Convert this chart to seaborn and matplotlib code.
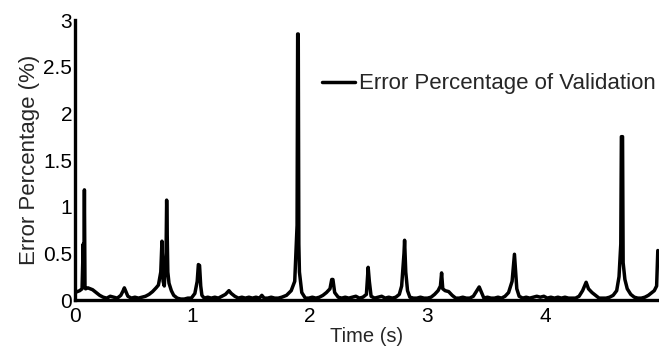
import numpy as np
import pandas as pd
import matplotlib
matplotlib.use("Agg")
import matplotlib.pyplot as plt
import seaborn as sns

time_s = [0.00, 0.02, 0.04, 0.06, 0.07, 0.075, 0.08, 0.085, 0.09, 0.11, 0.13, 0.15, 0.18, 0.21, 0.24, 0.27,
          0.30, 0.33, 0.36, 0.39, 0.41, 0.42, 0.43, 0.45, 0.48, 0.51, 0.54, 0.57, 0.60, 0.63, 0.66, 0.69,
          0.71, 0.73, 0.74, 0.75, 0.76, 0.775, 0.78, 0.79, 0.80, 0.82, 0.84, 0.87, 0.90, 0.93, 0.96, 0.99,
          1.02, 1.04, 1.05, 1.06, 1.07, 1.08, 1.10, 1.13, 1.16, 1.19, 1.22, 1.25, 1.28, 1.31, 1.33, 1.36,
          1.39, 1.42, 1.45, 1.48, 1.51, 1.54, 1.57, 1.59, 1.61, 1.64, 1.67, 1.70, 1.73, 1.76, 1.80, 1.84,
          1.87, 1.89, 1.895, 1.90, 1.905, 1.91, 1.93, 1.96, 1.99, 2.02, 2.05, 2.08, 2.11, 2.14, 2.17, 2.185,
          2.195, 2.21, 2.24, 2.27, 2.30, 2.33, 2.36, 2.39, 2.42, 2.45, 2.48, 2.495, 2.505, 2.52, 2.55, 2.58,
          2.61, 2.64, 2.67, 2.70, 2.73, 2.76, 2.78, 2.80, 2.805, 2.815, 2.83, 2.85, 2.88, 2.91, 2.94, 2.97,
          3.00, 3.03, 3.06, 3.09, 3.11, 3.12, 3.13, 3.15, 3.18, 3.21, 3.24, 3.27, 3.30, 3.33, 3.36, 3.39,
          3.42, 3.44, 3.46, 3.48, 3.51, 3.54, 3.57, 3.60, 3.63, 3.66, 3.69, 3.72, 3.74, 3.75, 3.76, 3.78,
          3.81, 3.84, 3.87, 3.90, 3.93, 3.96, 3.99, 4.02, 4.05, 4.08, 4.11, 4.14, 4.17, 4.20, 4.23, 4.26,
          4.29, 4.32, 4.35, 4.37, 4.40, 4.43, 4.46, 4.49, 4.52, 4.55, 4.58, 4.61, 4.63, 4.645, 4.65, 4.66,
          4.665, 4.68, 4.70, 4.73, 4.76, 4.79, 4.82, 4.85, 4.88, 4.91, 4.93, 4.95, 4.96]

error_pct = [0.08, 0.09, 0.10, 0.12, 0.60, 0.15, 1.18, 0.14, 0.12, 0.13, 0.12, 0.11, 0.08, 0.05, 0.03, 0.02,
             0.04, 0.03, 0.02, 0.05, 0.10, 0.13, 0.10, 0.04, 0.02, 0.03, 0.02, 0.03, 0.04, 0.06, 0.09, 0.13,
             0.16, 0.30, 0.63, 0.20, 0.15, 0.50, 1.07, 0.30, 0.18, 0.10, 0.05, 0.02, 0.01, 0.01, 0.02, 0.02,
             0.07, 0.20, 0.38, 0.37, 0.15, 0.05, 0.02, 0.03, 0.02, 0.03, 0.02, 0.04, 0.06, 0.10, 0.07, 0.04,
             0.02, 0.03, 0.02, 0.03, 0.02, 0.03, 0.02, 0.05, 0.02, 0.02, 0.03, 0.02, 0.02, 0.03, 0.05, 0.10,
             0.20, 0.80, 2.85, 2.85, 0.60, 0.30, 0.08, 0.02, 0.02, 0.03, 0.02, 0.03, 0.05, 0.08, 0.12, 0.22,
             0.22, 0.08, 0.03, 0.02, 0.03, 0.02, 0.03, 0.04, 0.02, 0.03, 0.06, 0.35, 0.20, 0.04, 0.02, 0.03,
             0.04, 0.02, 0.03, 0.02, 0.03, 0.06, 0.15, 0.50, 0.64, 0.30, 0.10, 0.03, 0.02, 0.02, 0.03, 0.02,
             0.02, 0.03, 0.06, 0.10, 0.15, 0.29, 0.12, 0.10, 0.09, 0.05, 0.02, 0.02, 0.03, 0.02, 0.02, 0.04,
             0.10, 0.14, 0.08, 0.02, 0.03, 0.02, 0.02, 0.03, 0.02, 0.04, 0.08, 0.20, 0.49, 0.30, 0.12, 0.04,
             0.02, 0.03, 0.02, 0.03, 0.04, 0.03, 0.04, 0.02, 0.03, 0.02, 0.03, 0.02, 0.03, 0.02, 0.02, 0.02,
             0.04, 0.10, 0.19, 0.12, 0.08, 0.05, 0.02, 0.02, 0.02, 0.03, 0.05, 0.10, 0.25, 0.60, 1.75, 1.75,
             0.40, 0.22, 0.12, 0.06, 0.03, 0.02, 0.02, 0.03, 0.05, 0.08, 0.10, 0.15, 0.53]

x_ticks = [0, 1, 2, 3, 4]
y_ticks = [0, 0.5, 1, 1.5, 2, 2.5, 3]
y_tick_labels = ["0", "0.5", "1", "1.5", "2", "2.5", "3"]
series_name = "Error Percentage of Validation"

df = pd.DataFrame({"Time": time_s, "Error": error_pct, "Series": series_name})

sns.set_style("white")
plt.rcParams["font.family"] = ["Liberation Sans", "DejaVu Sans"]

fig = plt.figure(figsize=(6.59, 3.51), dpi=100)
ax = fig.add_axes([75 / 659, 51 / 351, (659 - 75) / 659, 280 / 351])

sns.lineplot(data=df, x="Time", y="Error", hue="Series", palette=["black"],
             linewidth=2.5, ax=ax, legend=True)

ax.set_xlim(0, (659 - 75) / 117.5)
ax.set_ylim(0, 3)
ax.set_xticks(x_ticks)
ax.set_yticks(y_ticks)
ax.set_yticklabels(y_tick_labels)
ax.tick_params(direction="in", length=4, width=1.5, labelsize=15, colors="black")
ax.tick_params(axis="y", pad=2)
ax.tick_params(axis="x", pad=5)
for s in ["top", "right"]:
    ax.spines[s].set_visible(False)
for s in ["left", "bottom"]:
    ax.spines[s].set_linewidth(2.4)
    ax.spines[s].set_color("black")
ax.set_xlabel("Time (s)", fontsize=14.5, labelpad=1)
ax.set_ylabel("Error Percentage (%)", fontsize=16, labelpad=2)

handles, labels = ax.get_legend_handles_labels()
ax.legend(handles, labels, loc="center left", bbox_to_anchor=(322 / 659, 1 - 84 / 351),
          bbox_transform=fig.transFigure, frameon=False, fontsize=16, borderpad=0,
          borderaxespad=0, handlelength=1.5, handletextpad=0.15)

fig.savefig("out.png", dpi=100)
